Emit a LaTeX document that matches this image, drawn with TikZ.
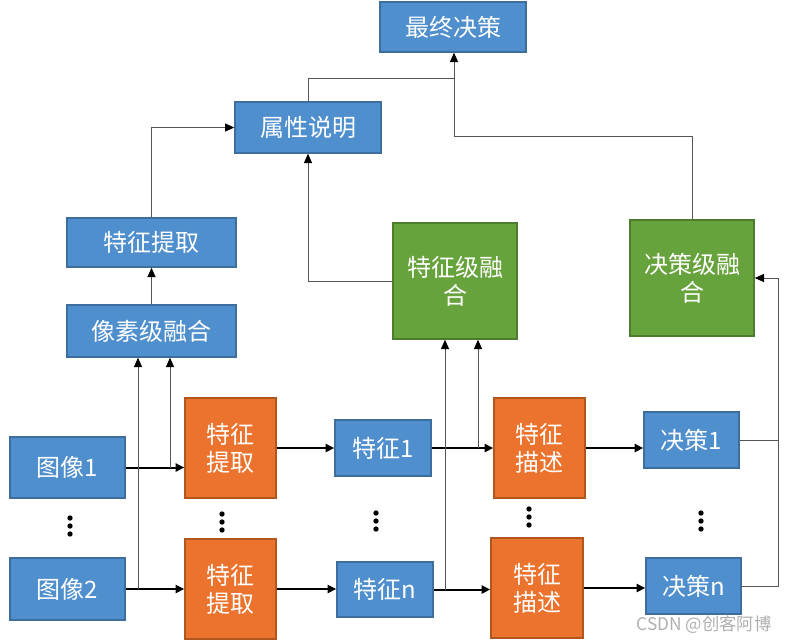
\documentclass[tikz,border=0pt]{standalone}
\usepackage{fontspec}
\setmainfont{Noto Sans CJK SC}
\usetikzlibrary{arrows.meta}

\tikzset{every picture/.style={line width=0.75pt}}
\tikzset{
  sz/.style 2 args={minimum width=#1*0.75pt, minimum height=#2*0.75pt},
  blk/.style={draw, inner sep=0pt, text=white, align=center, line width=1pt, font=\fontsize{18}{21}\selectfont},
  bluebox/.style={blk, fill={rgb, 255:red, 79; green, 143; blue, 206 }, draw={rgb, 255:red, 62; green, 110; blue, 158 }},
  orangebox/.style={blk, fill={rgb, 255:red, 235; green, 115; blue, 46 }, draw={rgb, 255:red, 178; green, 86; blue, 32 }},
  greenbox/.style={blk, fill={rgb, 255:red, 103; green, 163; blue, 60 }, draw={rgb, 255:red, 78; green, 124; blue, 46 }},
  thinline/.style={color={rgb, 255:red, 85; green, 85; blue, 85 }, line width=0.75pt},
  thinarrow/.style={thinline, -{Triangle[length=7pt,width=6pt,color=black]}},
  thickarrow/.style={black, line width=1.5pt, -{Triangle[length=6.5pt,width=6pt]}}
}

\begin{document}
\begin{tikzpicture}[x=0.75pt,y=0.75pt,yscale=-1,xscale=1]
\useasboundingbox (0,0) rectangle (788,643);

% Top boxes
\node [bluebox, sz={146}{50}] (final) at (453,27) {最终决策};
\node [bluebox, sz={146}{51}] (attr) at (308,127.5) {属性说明};
\node [bluebox, sz={169}{49}] (fext) at (151.5,242.5) {特征提取};
\node [bluebox, sz={169}{52}] (pix) at (151.5,331) {像素级融合};
\node [greenbox, sz={124}{116}] (featfuse) at (455,281) {特征级融\\合};
\node [greenbox, sz={124}{116}] (decfuse) at (692,278) {决策级融\\合};

% Row 1
\node [bluebox, sz={115}{61}] (img1) at (67.5,467.5) {图像1};
\node [orangebox, sz={91}{100}] (ext1) at (230.5,448) {特征\\提取};
\node [bluebox, sz={96}{56}] (f1) at (383,448) {特征1};
\node [orangebox, sz={91}{100}] (desc1) at (539.5,448) {特征\\描述};
\node [bluebox, sz={95}{56}] (d1) at (691.5,440) {决策1};

% Row n
\node [bluebox, sz={115}{62}] (img2) at (67.5,589) {图像2};
\node [orangebox, sz={91}{100}] (ext2) at (230.5,589) {特征\\提取};
\node [bluebox, sz={96}{55}] (fn) at (385,589.5) {特征n};
\node [orangebox, sz={92}{100}] (desc2) at (537,588) {特征\\描述};
\node [bluebox, sz={95}{56}] (dn) at (693.5,586) {决策n};

% Dots
\foreach \dx/\dy in {70/526, 222/522, 376/521, 529/517, 701/521}
  \foreach \k in {-1,0,1}
    \fill (\dx,\dy+\k*8) circle (2pt);

% Thick arrows
\draw [thickarrow] (img1.east) -- (img1.east -| ext1.west);
\draw [thickarrow] (img2.east) -- (img2.east -| ext2.west);
\draw [thickarrow] (ext1.east) -- (ext1.east -| f1.west);
\draw [thickarrow] (ext2.east) -- (ext2.east -| fn.west);
\draw [thickarrow] (f1.east) -- (f1.east -| desc1.west);
\draw [thickarrow] (fn.east) -- (fn.east -| desc2.west);
\draw [thickarrow] (desc1.east) -- (desc1.east -| d1.west);
\draw [thickarrow] (desc2.east) -- (desc2.east -| dn.west);

% Pixel level branch
\coordinate (p1) at (138,589);
\coordinate (p2) at (170,468);
\draw [thinarrow] (p1) -- (p1 |- pix.south);
\draw [thinarrow] (p2) -- (p2 |- pix.south);
\draw [thinarrow] (pix.north) -- (fext.south);
\draw [thinarrow] (fext.north) |- (attr.west);

% Feature level branch
\coordinate (q1) at (445,590);
\coordinate (q2) at (478,448);
\draw [thinarrow] (q1) -- (q1 |- featfuse.south);
\draw [thinarrow] (q2) -- (q2 |- featfuse.south);
\draw [thinarrow] (featfuse.west) -| (attr.south);

% Decision level branch
\coordinate (r) at (778,440);
\draw [thinline] (d1.east) -- (r);
\draw [thinarrow] (dn.east) -| (r) |- (decfuse.east);

% To final decision
\coordinate (j) at (454,78);
\coordinate (k) at (454,136);
\draw [thinline] (attr.north) |- (j);
\draw [thinarrow] (decfuse.north) |- (k) -- (k |- final.south);

% Text Node
\node [text={rgb, 255:red, 175; green, 175; blue, 175 }, font=\fontsize{13}{15}\selectfont, inner sep=0pt] (wm) at (704,625) {CSDN @创客阿博};

\end{tikzpicture}
\end{document}
